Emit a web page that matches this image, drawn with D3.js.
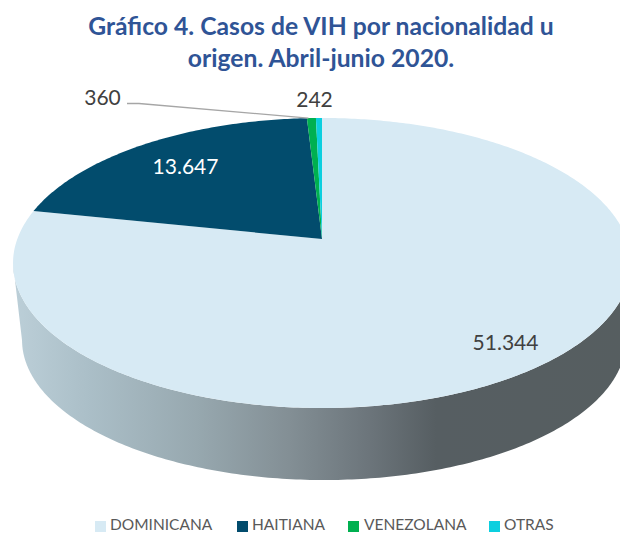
<!DOCTYPE html>
<html><head><meta charset="utf-8">
<script src="https://cdn.jsdelivr.net/npm/d3@7/dist/d3.min.js"></script>
<style>html,body{margin:0;padding:0;background:#fff;overflow:hidden}svg{display:block}</style>
</head><body><svg id="c" width="620" height="534"></svg>
<script>
const categories = ["DOMINICANA","HAITIANA","VENEZOLANA","OTRAS"];
const values = [51344,13647,360,242];
const valueLabels = ["51.344","13.647","360","242"];
const colors = ["#d7eaf4","#024c6d","#00b050","#0ccfdf"];
const titleLines = ["Gráfico 4. Casos de VIH por nacionalidad u","origen. Abril-junio 2020."];

const font = "Lato, Carlito, Calibri, sans-serif";
const svg = d3.select("#c");

// perspective projection of the unit disc onto the screen
const c = 0.1655, k = 304.7, cx = 322, py = 239, b = -101.5;
const proj = (th, r = 1) => {
  const u = r * Math.sin(th), v = r * Math.cos(th), w = 1 + c * v;
  return [cx + k * u / w, (py + b * v) / w];
};
const lower = ([x, y]) => [324 + (x - cx) * 302 / 309, 340 + (y - 263) * 140 / 145];

const pie = d3.pie().sort(null).value(d => d)(values);
const line = d3.line();
const rim = (a0, a1, n = 240) => d3.range(n + 1).map(i => proj(a0 + (a1 - a0) * i / n));

// side wall gradient
const defs = svg.append("defs");
const grad = defs.append("linearGradient").attr("id", "side")
  .attr("gradientUnits", "userSpaceOnUse").attr("x1", 13).attr("x2", 626).attr("y1", 0).attr("y2", 0);
[[0, "#bccfd8"], [0.12, "#abbfc8"], [0.3, "#97a8af"], [0.45, "#838f95"], [0.58, "#6c757b"], [0.69, "#565e62"], [1, "#565e60"]]
  .forEach(([o, col]) => grad.append("stop").attr("offset", o).attr("stop-color", col));

// side wall
const tau = 2 * Math.PI;
const full = rim(0, tau, 480);
const leftIdx = d3.minIndex(full, p => p[0]), rightIdx = d3.maxIndex(full, p => p[0]);
const frontTop = full.slice(rightIdx, leftIdx + 1);
const frontBot = frontTop.map(lower).reverse();
svg.append("path").attr("d", line(frontTop.concat(frontBot)) + "Z").attr("fill", "url(#side)");

// top slices
pie.forEach((s, i) => {
  const pts = [proj(0, 0)].concat(rim(s.startAngle, s.endAngle, Math.max(8, Math.ceil((s.endAngle - s.startAngle) * 80))));
  svg.append("path").attr("d", line(pts) + "Z").attr("fill", colors[i]);
});

// leader line for VENEZOLANA
const g = proj((pie[2].startAngle + pie[2].endAngle) / 2);
svg.append("path").attr("d", `M127,103.5L139,103.5L${g[0] - 3},${g[1]}`)
  .attr("fill", "none").attr("stroke", "#a6a6a6").attr("stroke-width", 1.3);

// value labels
const labelPos = [[505.5, 343], [185.5, 167], [102.5, 98], [314.5, 100]];
const labelCol = ["#404040", "#ffffff", "#404040", "#404040"];
valueLabels.forEach((t, i) => svg.append("text").text(t)
  .attr("x", labelPos[i][0]).attr("y", labelPos[i][1]).attr("dy", "0.35em")
  .attr("text-anchor", "middle").attr("font-family", font).attr("font-size", 21)
  .attr("fill", labelCol[i]));

// title
titleLines.forEach((t, i) => svg.append("text").text(t)
  .attr("x", 321).attr("y", 35 + i * 32).attr("text-anchor", "middle")
  .attr("font-family", font).attr("font-weight", 700).attr("font-size", 24.7)
  .attr("fill", "#2f5496"));

// legend
const swatchX = [95, 237, 348, 489], textX = [110, 252, 364, 504];
categories.forEach((t, i) => {
  svg.append("rect").attr("x", swatchX[i]).attr("y", 521).attr("width", 11).attr("height", 11).attr("fill", colors[i]);
  svg.append("text").text(t).attr("x", textX[i]).attr("y", 530)
    .attr("font-family", font).attr("font-size", 15.5).attr("fill", "#595959");
});
</script></body></html>
